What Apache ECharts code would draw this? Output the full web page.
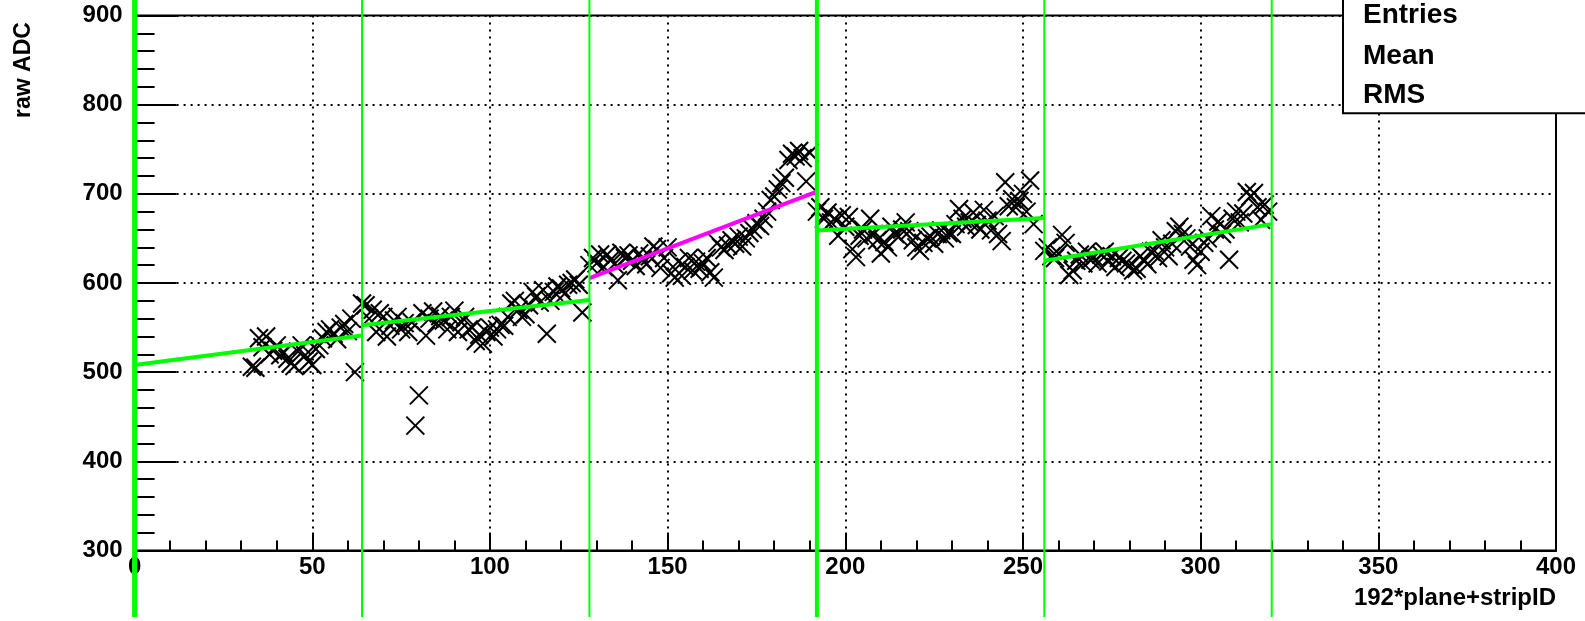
<!DOCTYPE html>
<html>
<head>
<meta charset="utf-8">
<script src="https://cdn.jsdelivr.net/npm/echarts@6/dist/echarts.min.js"></script>
<style>
html,body{margin:0;padding:0;background:#fff;}
#chart{width:1585px;height:621px;}
</style>
</head>
<body>
<div id="chart"></div>
<script>
// ---- data (strip index, raw ADC) per plane segment ----
const strips1 = [33,34,35,36,37,38,39,40,41,42,43,44,45,46,47,48,49,50,51,52,53,54,55,56,57,58,59,60,61,62];
const adc1    = [506,505,538,528,540,520,524,530,519,522,515,510,507,523,530,519,512,508,526,530,538,545,548,543,537,550,554,546,560,500];

const strips2 = [64,65,66,67,68,69,70,71,72,73,74,75,76,77,78,79,80,81,82,83,84,85,86,87,88,89,90,91,92,93,94,95,96,97,98,99,100,101,102,103,104,105,106,107,108,109,110,111,112,113,114,115,116,117,118,119,120,121,122,123,124,125,126];
const adc2    = [577,575,560,570,545,566,562,540,552,558,562,548,555,545,556,440,474,566,541,560,568,555,563,558,548,562,569,545,556,562,548,550,535,542,532,545,550,540,548,553,552,562,577,580,570,562,565,575,590,585,578,592,543,580,590,596,594,588,598,600,604,598,567];

const strips3 = [128,129,130,131,132,133,134,135,136,137,138,139,140,141,142,143,144,145,146,147,148,149,150,151,152,153,154,155,156,157,158,159,160,161,162,163,164,165,166,167,168,169,170,171,172,173,174,175,176,177,178,179,180,181,182,183,184,185,186,187,188,189,190];
const adc3    = [620,628,622,632,618,632,626,621,603,634,628,631,625,619,633,626,621,630,641,638,617,628,640,611,606,624,608,618,628,614,624,616,622,628,612,606,645,640,637,642,648,644,652,641,650,656,660,667,664,672,680,693,697,705,712,718,738,745,742,748,740,714,746];

const strips4 = [192,193,194,195,196,197,198,199,200,201,202,203,204,205,206,207,208,209,210,211,212,213,214,215,216,217,218,219,220,221,222,223,224,225,226,227,228,229,230,231,232,233,234,235,236,237,238,239,240,241,242,243,244,245,246,247,248,249,250,251,252,253];
const adc4    = [680,685,672,679,668,672,653,676,663,674,638,629,653,660,650,672,655,648,633,646,640,663,655,652,660,668,658,648,640,636,645,650,652,644,655,659,650,656,655,666,683,672,663,668,679,665,660,682,670,659,675,655,647,713,686,694,685,692,700,680,715,666];

const strips5 = [256,257,258,259,260,261,262,263,264,265,266,267,268,269,270,271,272,273,274,275,276,277,278,279,280,281,282,283,284,285,286,287,288,289,290,291,292,293,294,295,296,297,298,299,300,301,302,303,304,305,306,307,308,309,310,311,312,313,314,315,316,317,318,319];
const adc5    = [636,640,630,628,633,654,645,609,614,625,632,622,635,626,629,622,632,635,624,630,618,628,625,622,620,614,616,630,626,621,635,636,628,648,640,630,644,658,663,655,650,641,626,620,635,645,650,675,660,669,655,660,626,672,680,668,678,702,697,701,685,671,688,680];

// linear fits per plane segment
const fitStart  = [0, 64, 128, 192, 256];
const fitEnd    = [64, 128, 192, 256, 320];
const fitStartY = [508, 552.5, 605.6, 659, 625];
const fitEndY   = [541, 581, 702.6, 673, 666];
const fitColors = ['#00ff00','#00ff00','#ff00ff','#00ff00','#00ff00'];

// plane boundaries (vertical green lines)
const boundaries = [0, 64, 128, 192, 256, 320];
const boundaryWidths = [5, 2, 2, 4, 2, 2];

const xTicks = [0, 50, 100, 150, 200, 250, 300, 350, 400];
const yTicks = [300, 400, 500, 600, 700, 800, 900];
const statLabels = ['Entries', 'Mean', 'RMS'];

// ---- build ----
const FONT = "'Liberation Sans', Arial, Helvetica, sans-serif";
const points = [];
[[strips1,adc1],[strips2,adc2],[strips3,adc3],[strips4,adc4],[strips5,adc5]].forEach(function(s){
  s[0].forEach(function(x,i){ points.push([x, s[1][i]]); });
});

const chart = echarts.init(document.getElementById('chart'), null, {renderer:'canvas'});

const series = [];
series.push({
  type: 'custom',
  xAxisIndex: 0, yAxisIndex: 0,
  data: points,
  z: 3,
  renderItem: function(params, api){
    const p = api.coord([api.value(0), api.value(1)]);
    const h = 9;
    const st = {stroke:'#000', lineWidth:2};
    return {type:'group', children:[
      {type:'line', shape:{x1:p[0]-h,y1:p[1]-h,x2:p[0]+h,y2:p[1]+h}, style:st},
      {type:'line', shape:{x1:p[0]-h,y1:p[1]+h,x2:p[0]+h,y2:p[1]-h}, style:st}
    ]};
  }
});
fitStart.forEach(function(x0,i){
  series.push({
    type:'line', xAxisIndex:0, yAxisIndex:0, z:4,
    data:[[x0, fitStartY[i]],[fitEnd[i], fitEndY[i]]],
    showSymbol:false, symbol:'none', silent:true, animation:false,
    lineStyle:{color:fitColors[i], width:4}
  });
});
boundaries.forEach(function(b,i){
  series.push({
    type:'line', xAxisIndex:1, yAxisIndex:1, z:5,
    data:[[b,0],[b,1]],
    showSymbol:false, symbol:'none', silent:true, animation:false,
    lineStyle:{color:'#00ff00', width:boundaryWidths[i]}
  });
});

const labelStyle = {fontFamily:FONT, fontWeight:'bold', fontSize:24, color:'#000'};
const dotted = {color:'#000', width:2, type:[2,5]};

chart.setOption({
  animation:false,
  backgroundColor:'#fff',
  grid:[
    {left:134.6, right:29, top:15.5, bottom:70.5, show:true, borderColor:'#000', borderWidth:2, backgroundColor:'transparent'},
    {left:134.6, right:29, top:0, bottom:4, show:false}
  ],
  xAxis:[
    {type:'value', gridIndex:0, min:xTicks[0], max:xTicks[xTicks.length-1], interval:50,
     axisLine:{show:true, onZero:false, lineStyle:{color:'#000', width:2}},
     axisTick:{show:true, inside:true, length:18, lineStyle:{color:'#000', width:2}},
     minorTick:{show:true, splitNumber:5, length:10, lineStyle:{color:'#000', width:2}},
     splitLine:{show:true, lineStyle:dotted},
     axisLabel:Object.assign({margin:5, showMinLabel:true, showMaxLabel:true}, labelStyle)},
    {type:'value', gridIndex:1, min:0, max:400, show:false}
  ],
  yAxis:[
    {type:'value', gridIndex:0, min:yTicks[0], max:yTicks[yTicks.length-1], interval:100,
     axisLine:{show:true, onZero:false, lineStyle:{color:'#000', width:2}},
     axisTick:{show:true, inside:true, length:42, lineStyle:{color:'#000', width:2}},
     minorTick:{show:true, splitNumber:5, length:20, lineStyle:{color:'#000', width:2}},
     splitLine:{show:true, lineStyle:dotted},
     axisLabel:Object.assign({margin:12, showMinLabel:true, showMaxLabel:true}, labelStyle)},
    {type:'value', gridIndex:1, min:0, max:1, show:false}
  ],
  series:series,
  graphic:[
    {type:'text', z:10, x:23.5, y:70, rotation:Math.PI/2,
     style:{text:'raw ADC', fill:'#000', font:'bold 23px ' + FONT, textAlign:'center', textVerticalAlign:'middle'}},
    {type:'text', z:10, x:1556, y:598,
     style:{text:'192*plane+stripID', fill:'#000', font:'bold 24px ' + FONT, textAlign:'right', textVerticalAlign:'middle'}},
    {type:'rect', z:20, shape:{x:1343, y:-5, width:260, height:118.3},
     style:{fill:'#fff', stroke:'#000', lineWidth:2}},
    {type:'text', z:21, x:1363, y:15, style:{text:statLabels[0], fill:'#000', font:'bold 28px ' + FONT, textVerticalAlign:'middle'}},
    {type:'text', z:21, x:1363, y:56.7, style:{text:statLabels[1], fill:'#000', font:'bold 28px ' + FONT, textVerticalAlign:'middle'}},
    {type:'text', z:21, x:1363, y:95, style:{text:statLabels[2], fill:'#000', font:'bold 28px ' + FONT, textVerticalAlign:'middle'}}
  ]
});
</script>
</body>
</html>
